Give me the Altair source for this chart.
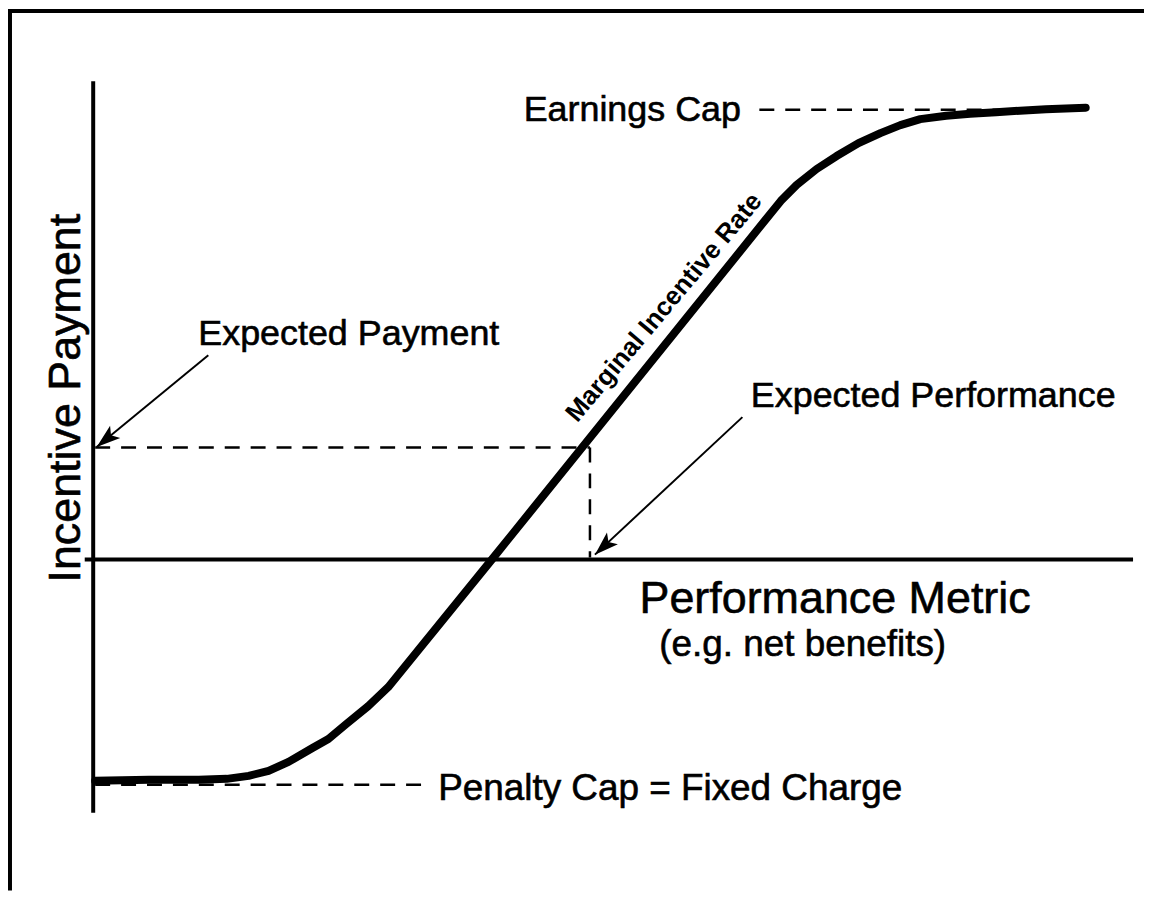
import math
import altair as alt
import pandas as pd

# ---- coordinate frame (abstract units: origin at axis crossing) ----
XMIN, XMAX = -8.55, 105.45
YMIN, YMAX = -33.2, 55.2
W, H = 1140, 884

# ---- incentive curve ----
curve_x = [0.2, 5.6, 10.6, 13.4, 15.6, 17.6, 19.6, 22.0, 23.6, 25.4, 27.6, 29.6,
           40.0, 69.0, 70.6, 72.6, 74.6, 76.8, 79.0, 81.0, 83.0, 85.6, 88.0,
           90.6, 93.0, 95.6, 99.6]
curve_y = [-22.2, -22.1, -22.1, -22.0, -21.7, -21.2, -20.3, -18.9, -18.0, -16.5,
           -14.7, -12.8, 0.0, 36.0, 37.6, 39.2, 40.5, 41.8, 42.8, 43.6, 44.2,
           44.55, 44.75, 44.9, 45.05, 45.2, 45.35]

# ---- axes and frame (x, x2, y, y2) ----
axis_x1 = [0.0, -0.85, -8.35, -8.55]
axis_x2 = [0.0, 104.35, -8.35, 105.45]
axis_y1 = [48.0, 0.0, YMIN, 55.05]
axis_y2 = [-25.4, 0.0, 55.05, 55.05]

# ---- dashed guide lines: earnings cap, penalty cap, expected payment, expected performance ----
dash_x1 = [66.85, 0.2, 0.2, 49.85]
dash_x2 = [99.0, 32.95, 49.85, 49.85]
dash_y1 = [45.15, -22.6, 11.25, 11.25]
dash_y2 = [45.15, -22.6, 11.25, 0.2]

# ---- arrows (start -> tip) ----
arrow_x1 = [11.55, 65.15]
arrow_y1 = [20.5, 14.3]
arrow_x2 = [0.35, 50.35]
arrow_y2 = [11.3, 0.5]

# ---- labels ----
label_text = ["Earnings Cap", "Expected Payment", "Expected Performance",
              "Performance Metric", "(e.g. net benefits)",
              "Penalty Cap = Fixed Charge", "Incentive Payment"]
label_x = [54.1, 25.65, 84.3, 74.45, 71.2, 57.9, -1.35]
label_y = [44.0, 21.5, 15.3, -5.4, -9.7, -24.1, 16.2]
label_size = [36, 36, 36, 45, 37, 37, 45]
label_angle = [0, 0, 0, 0, 0, 0, 270]

rate_text = ["Marginal Incentive Rate"]
rate_x = [57.9]
rate_y = [24.8]
rate_angle = [310]

xs = alt.Scale(domain=[XMIN, XMAX], nice=False, zero=False)
ys = alt.Scale(domain=[YMIN, YMAX], nice=False, zero=False)
FONT = "Liberation Sans"

curve_df = pd.DataFrame({"x": curve_x, "y": curve_y, "i": range(len(curve_x))})
axis_df = pd.DataFrame({"x": axis_x1, "x2": axis_x2, "y": axis_y1, "y2": axis_y2})
dash_df = pd.DataFrame({"x": dash_x1, "x2": dash_x2, "y": dash_y1, "y2": dash_y2})
arrow_df = pd.DataFrame({"x": arrow_x1, "x2": arrow_x2, "y": arrow_y1, "y2": arrow_y2})
# arrowhead orientation derived from each arrow's own direction (screen, clockwise from up)
ux, uy = W / (XMAX - XMIN), H / (YMAX - YMIN)
arrow_df["ang"] = [
    (math.degrees(math.atan2((x2 - x1) * ux, (y2 - y1) * uy)) + 360) % 360
    for x1, y1, x2, y2 in zip(arrow_x1, arrow_y1, arrow_x2, arrow_y2)
]
label_df = pd.DataFrame({"t": label_text, "x": label_x, "y": label_y,
                         "fs": label_size, "ang": label_angle})
rate_df = pd.DataFrame({"t": rate_text, "x": rate_x, "y": rate_y, "ang": rate_angle})

X = alt.X("x:Q", scale=xs, axis=None)
Y = alt.Y("y:Q", scale=ys, axis=None)

axes = alt.Chart(axis_df).mark_rule(color="black", strokeWidth=4).encode(
    x=X, x2="x2:Q", y=Y, y2="y2:Q")

dashes = alt.Chart(dash_df).mark_rule(color="black", strokeWidth=2.5,
                                      strokeDash=[15, 11]).encode(
    x=X, x2="x2:Q", y=Y, y2="y2:Q")

curve = alt.Chart(curve_df).mark_line(color="black", strokeWidth=8,
                                      strokeJoin="round", strokeCap="round").encode(
    x=X, y=Y, order="i:Q")

shafts = alt.Chart(arrow_df).mark_rule(color="black", strokeWidth=2).encode(
    x=X, x2="x2:Q", y=Y, y2="y2:Q")

heads = alt.Chart(arrow_df).mark_point(
    shape="M0,0L0.67,2L0,1.55L-0.67,2Z", filled=True, size=576,
    color="black", opacity=1, strokeWidth=0).encode(
    x=alt.X("x2:Q", scale=xs, axis=None), y=alt.Y("y2:Q", scale=ys, axis=None),
    angle=alt.Angle("ang:Q", scale=None))

labels = alt.Chart(label_df).mark_text(font=FONT, color="black", stroke="black",
                                       strokeWidth=0.6, align="center",
                                       baseline="alphabetic").encode(
    x=X, y=Y, text="t:N", size=alt.Size("fs:Q", scale=None),
    angle=alt.Angle("ang:Q", scale=None))

rate = alt.Chart(rate_df).mark_text(font=FONT, fontWeight="bold", fontSize=26,
                                    color="black", align="center",
                                    baseline="alphabetic").encode(
    x=X, y=Y, text="t:N", angle=alt.Angle("ang:Q", scale=None))

chart = alt.layer(axes, dashes, curve, shafts, heads, labels, rate).properties(
    width=W, height=H, autosize=alt.AutoSizeParams(type="none"), padding=0,
    background="white"
).configure_view(stroke=None)

chart.save("out.html", embed_options={"renderer": "svg", "actions": False})
